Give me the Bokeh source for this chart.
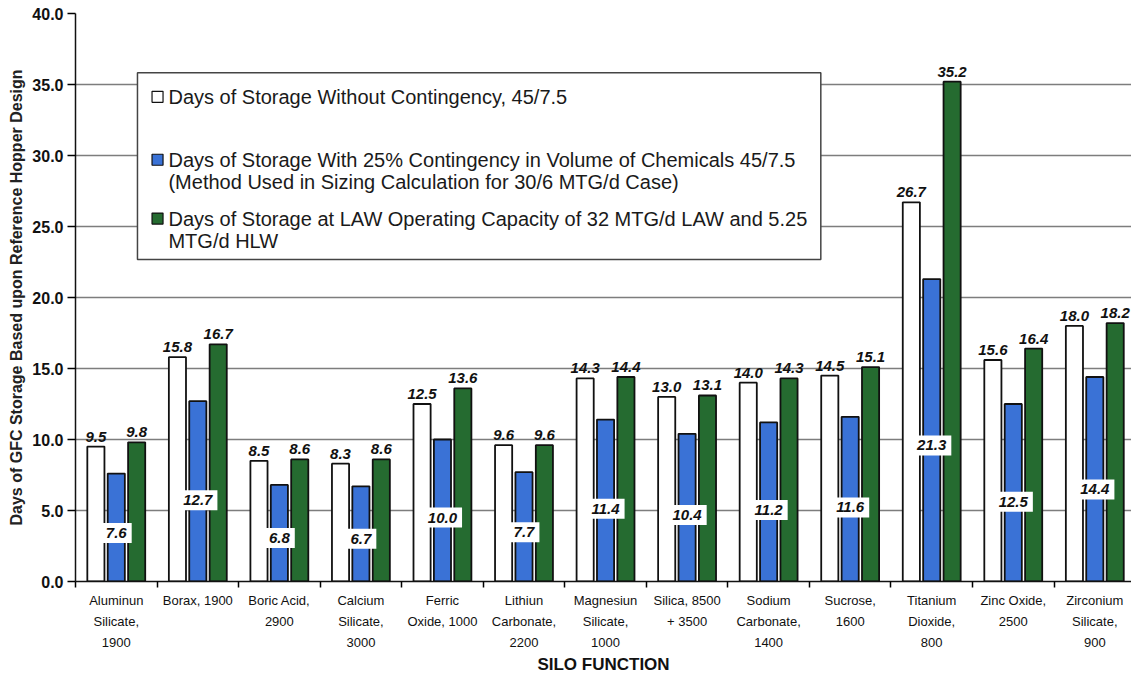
from bokeh.plotting import figure
from bokeh.models import FixedTicker, NumeralTickFormatter, Range1d, ColumnDataSource
from bokeh.core.properties import value
from bokeh.embed import file_html
from bokeh.resources import INLINE

categories = ["Aluminun\nSilicate,\n1900", "Borax, 1900", "Boric Acid,\n2900", "Calcium\nSilicate,\n3000",
              "Ferric\nOxide, 1000", "Lithiun\nCarbonate,\n2200", "Magnesiun\nSilicate,\n1000",
              "Silica, 8500\n+ 3500", "Sodium\nCarbonate,\n1400", "Sucrose,\n1600",
              "Titanium\nDioxide,\n800", "Zinc Oxide,\n2500", "Zirconium\nSilicate,\n900"]
without_contingency = [9.5, 15.8, 8.5, 8.3, 12.5, 9.6, 14.3, 13.0, 14.0, 14.5, 26.7, 15.6, 18.0]
with_contingency = [7.6, 12.7, 6.8, 6.7, 10.0, 7.7, 11.4, 10.4, 11.2, 11.6, 21.3, 12.5, 14.4]
law_capacity = [9.8, 16.7, 8.6, 8.6, 13.6, 9.6, 14.4, 13.1, 14.3, 15.1, 35.2, 16.4, 18.2]
series_names = ["Days of Storage Without Contingency, 45/7.5",
                "Days of Storage With 25% Contingency in Volume of Chemicals 45/7.5\n(Method Used in Sizing Calculation for 30/6 MTG/d Case)",
                "Days of Storage at LAW Operating Capacity of 32 MTG/d LAW and 5.25\nMTG/d HLW"]
y_ticks = [0, 5, 10, 15, 20, 25, 30, 35, 40]

FONT = "Liberation Sans"
WHITE, BLUE, GREEN = "#ffffff", "#3a72d6", "#256b30"

n = len(categories)
idx = list(range(n))

p = figure(width=1131, height=676, output_backend="svg", toolbar_location=None,
           x_range=Range1d(-0.5, 12.45), y_range=Range1d(0, 40),
           min_border_left=75, min_border_right=0, min_border_top=13, min_border_bottom=90)
p.outline_line_color = None
p.background_fill_color = "white"

# bars
bw = 0.21
offs = [-0.25, 0.0, 0.25]
for vals, col, off in zip([without_contingency, with_contingency, law_capacity], [WHITE, BLUE, GREEN], offs):
    src = ColumnDataSource(dict(x=[i + off for i in idx], top=vals))
    p.vbar(x="x", top="top", width=bw, source=src, fill_color=col, line_color="#111111", line_width=1.8)

# value labels above white and green bars
for vals, off in [(without_contingency, offs[0]), (law_capacity, offs[2])]:
    src = ColumnDataSource(dict(x=[i + off for i in idx], y=vals, t=[f"{v:.1f}" for v in vals]))
    p.text(x="x", y="y", text="t", source=src, text_align="center", text_baseline="bottom", y_offset=-5,
           text_font=value(FONT), text_font_size="15px", text_font_style="bold italic", text_color="#111111")

# labels inside blue bars
src = ColumnDataSource(dict(x=idx, y=[0.45 * v for v in with_contingency], t=[f"{v:.1f}" for v in with_contingency]))
p.text(x="x", y="y", text="t", source=src, text_align="center", text_baseline="middle",
       text_font=value(FONT), text_font_size="15px", text_font_style="bold italic", text_color="#111111",
       background_fill_color="white", padding=5)

# axes
p.yaxis.ticker = FixedTicker(ticks=y_ticks)
p.yaxis.formatter = NumeralTickFormatter(format="0.0")
p.yaxis.major_label_text_font = FONT
p.yaxis.major_label_text_font_size = "16px"
p.yaxis.major_label_text_font_style = "bold"
p.yaxis.major_label_text_color = "#111111"
p.yaxis.major_label_standoff = 4
p.yaxis.major_tick_out = 8
p.yaxis.major_tick_in = 0
p.yaxis.minor_tick_out = 0
p.yaxis.axis_line_width = 1.5
p.yaxis.major_tick_line_width = 1.5
p.yaxis.axis_line_color = "#111111"
p.yaxis.axis_label = "Days of GFC Storage Based upon Reference Hopper Design"
p.yaxis.axis_label_text_font = FONT
p.yaxis.axis_label_text_font_size = "16px"
p.yaxis.axis_label_text_font_style = "bold"
p.yaxis.axis_label_text_color = "#222222"
p.yaxis.axis_label_standoff = 4

p.xaxis.ticker = FixedTicker(ticks=idx, minor_ticks=[i - 0.5 for i in range(n + 1)])
p.xaxis.major_label_overrides = {i: c for i, c in zip(idx, categories)}
p.xaxis.major_tick_out = 0
p.xaxis.major_tick_in = 0
p.xaxis.minor_tick_out = 6
p.xaxis.minor_tick_in = 0
p.xaxis.minor_tick_line_width = 1.5
p.xaxis.axis_line_width = 1.5
p.xaxis.axis_line_color = "#111111"
p.xaxis.major_label_text_font = FONT
p.xaxis.major_label_text_font_size = "13px"
p.xaxis.major_label_text_color = "#111111"
p.xaxis.major_label_text_line_height = 1.4
p.xaxis.major_label_standoff = 5
p.xaxis.axis_label = "SILO FUNCTION"
p.xaxis.axis_label_text_font = FONT
p.xaxis.axis_label_text_font_size = "17px"
p.xaxis.axis_label_text_font_style = "bold"
p.xaxis.axis_label_text_color = "#111111"
p.xaxis.axis_label_standoff = 2

p.xgrid.grid_line_color = None
p.ygrid.ticker = FixedTicker(ticks=y_ticks)
p.ygrid.grid_line_color = "#7d7d7d"
p.ygrid.grid_line_width = 1.5

# legend box (drawn manually)
p.quad(left=[0.26], right=[8.64], top=[35.82], bottom=[22.68], fill_color="white",
       line_color="#444444", line_width=1.5)
sw_y = [34.13, 29.70, 25.56]
p.rect(x=[0.506] * 3, y=sw_y, width=11, height=11, width_units="screen", height_units="screen",
       fill_color=[WHITE, BLUE, GREEN], line_color="#111111", line_width=1.2)
leg_lines, leg_y = [], []
line_gap = 1.55
for name, y0 in zip(series_names, sw_y):
    for k, ln in enumerate(name.split("\n")):
        leg_lines.append(ln)
        leg_y.append(y0 - k * line_gap)
p.text(x=[0.64] * len(leg_lines), y=leg_y, text=leg_lines, text_align="left", text_baseline="middle",
       text_font=value(FONT), text_font_size="20px", text_color="#1a1a1a")

open("out.html", "w").write(file_html(p, INLINE))
